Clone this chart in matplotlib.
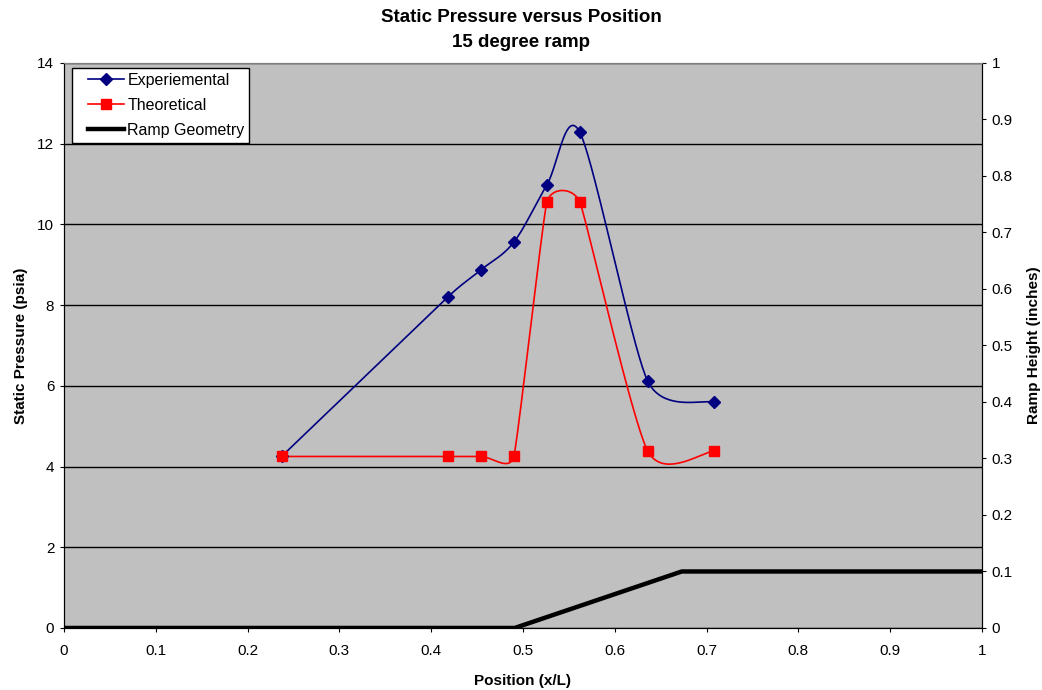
import numpy as np
import matplotlib
matplotlib.use("Agg")
import matplotlib.pyplot as plt
from matplotlib.lines import Line2D
from matplotlib.legend_handler import HandlerLine2D

plt.rcParams['font.family'] = ['Liberation Sans', 'DejaVu Sans']

# Measured and predicted wall pressure along the ramp
x_exp = [0.237, 0.418, 0.454, 0.490, 0.526, 0.562, 0.636, 0.708]
p_exp = [4.25, 8.20, 8.87, 9.56, 10.98, 12.28, 6.11, 5.59]

x_theo = [0.237, 0.418, 0.454, 0.490, 0.526, 0.562, 0.636, 0.708]
p_theo = [4.25, 4.25, 4.25, 4.25, 10.55, 10.55, 4.38, 4.38]

# Ramp profile (inches)
x_ramp = [0.0, 0.491, 0.673, 1.0]
h_ramp = [0.0, 0.0, 0.1, 0.1]


def smooth(ax, xs, ys, n=40):
    # Bezier smoothing in screen space, control arms capped at half the
    # shorter neighbouring segment
    pts = ax.transData.transform(np.column_stack([xs, ys]))
    ext = np.vstack([pts[0], pts, pts[-1]])
    arms = []
    for i in range(1, len(ext) - 1):
        tan = ext[i + 1] - ext[i - 1]
        d02 = np.hypot(*tan)
        d01 = np.hypot(*(ext[i] - ext[i - 1]))
        d12 = np.hypot(*(ext[i + 1] - ext[i]))
        segs = [d for d in (d01, d12) if d > 0]
        f = 1 / 6
        if d02 > 0 and segs and d02 / 6 > min(segs) / 2:
            f = min(segs) / (2 * d02)
        arms.append(tan * f)
    t = np.linspace(0, 1, n)[:, None]
    out = []
    for i in range(len(pts) - 1):
        p0, p3 = pts[i], pts[i + 1]
        c1, c2 = p0 + arms[i], p3 - arms[i + 1]
        out.append((1 - t) ** 3 * p0 + 3 * (1 - t) ** 2 * t * c1
                   + 3 * (1 - t) * t ** 2 * c2 + t ** 3 * p3)
    curve = ax.transData.inverted().transform(np.vstack(out))
    return curve[:, 0], curve[:, 1]


fig = plt.figure(figsize=(10.42, 6.9), dpi=100)
ax = fig.add_axes([0.0614, 0.0899, 0.881, 0.8188])
ax.set_facecolor('#c0c0c0')

ax.set_xlim(0, 1)
ax.set_ylim(0, 14)
ticks01 = ['0', '0.1', '0.2', '0.3', '0.4', '0.5', '0.6', '0.7', '0.8', '0.9', '1']
ax.set_xticks(np.arange(0, 1.01, 0.1))
ax.set_xticklabels(ticks01)
ax.set_yticks(range(0, 15, 2))
ax.yaxis.grid(True, color='black', lw=1)
ax.set_axisbelow(True)
ax.tick_params(axis='y', labelsize=11, direction='out', length=3, pad=4)
ax.tick_params(axis='x', labelsize=11, direction='out', length=3, pad=8.5)

sx, sy = smooth(ax, x_exp, p_exp)
ax.plot(sx, sy, color='#000080', lw=1.2, zorder=3)
ax.plot(x_exp, p_exp, ls='none', marker='D', ms=6, color='#000080', zorder=4)

tx, ty = smooth(ax, x_theo, p_theo)
ax.plot(tx, ty, color='#ff0000', lw=1.2, zorder=3)
ax.plot(x_theo, p_theo, ls='none', marker='s', ms=7, color='#ff0000', zorder=4)

ax2 = ax.twinx()
ax2.set_ylim(0, 1)
ax2.set_yticks(np.arange(0, 1.01, 0.1))
ax2.set_yticklabels(ticks01)
ax2.tick_params(labelsize=11, direction='out', length=3, pad=4)
ax2.plot(x_ramp, h_ramp, color='black', lw=3.2, solid_capstyle='butt', zorder=5)

for a in (ax, ax2):
    for name, s in a.spines.items():
        s.set_color('#808080' if name == 'top' else 'black')

ax.set_xlabel('Position (x/L)', fontsize=11, fontweight='bold')
ax.set_ylabel('Static Pressure (psia)', fontsize=11, fontweight='bold')
ax2.set_ylabel('Ramp Height (inches)', fontsize=11, fontweight='bold')
ax.xaxis.set_label_coords(0.5, -0.0814)
ax.yaxis.set_label_coords(-0.0392, 0.5)
ax2.yaxis.set_label_coords(1.049, 0.5)

fig.text(0.5, 0.974, 'Static Pressure versus Position', ha='center', va='center',
         fontsize=13.5, fontweight='bold')
fig.text(0.5, 0.938, '15 degree ramp', ha='center', va='center',
         fontsize=13.5, fontweight='bold')

handles = [
    Line2D([], [], color='#000080', marker='D', ms=6, lw=1.2),
    Line2D([], [], color='#ff0000', marker='s', ms=7, lw=1.2),
    Line2D([], [], color='black', lw=3.2),
]
leg = ax2.legend(handles, ['Experiemental', 'Theoretical', 'Ramp Geometry'],
                 loc='upper left', bbox_to_anchor=(0.009, 0.991), fontsize=11.5,
                 frameon=True, fancybox=False, framealpha=1, edgecolor='black',
                 handlelength=2.95, borderpad=0.3, labelspacing=0.63,
                 handletextpad=0.2, borderaxespad=0,
                 handler_map={Line2D: HandlerLine2D(xpad=0.7)})
leg.get_frame().set_facecolor('white')
leg.get_frame().set_linewidth(1)

fig.savefig('out.png', dpi=100, facecolor='white')
